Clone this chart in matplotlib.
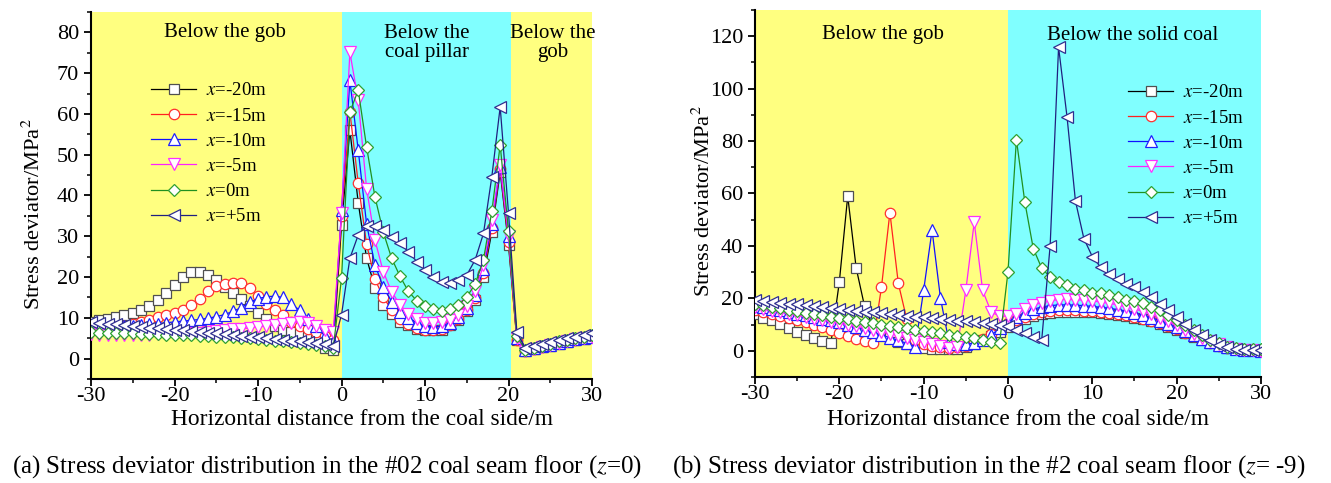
import matplotlib
matplotlib.use('Agg')
import matplotlib.pyplot as plt
import numpy as np
from matplotlib.ticker import MultipleLocator

plt.rcParams['font.family'] = ['Liberation Serif', 'DejaVu Serif']
plt.rcParams['mathtext.fontset'] = 'stix'
plt.rcParams['axes.unicode_minus'] = False

# horizontal positions (m), one point per metre
dist = list(range(-30, 31))
labels = ['$x$=-20m', '$x$=-15m', '$x$=-10m', '$x$=-5m', '$x$=0m', '$x$=+5m']

# (a) #02 coal seam floor, z=0
a_m20 = [9.0, 9.4, 9.8, 10.3, 10.7, 11.2, 11.8, 12.8, 14.3, 16.2,
         18.1, 20.0, 21.2, 21.3, 20.5, 19.2, 17.6, 16.2, 14.5, 12.8,
         11.2, 9.8, 8.0, 7.0, 6.5, 6.2, 5.8, 5.0, 2.5, 2.2,
         32.8, 56.0, 38.2, 24.6, 17.4, 13.2, 11.0, 9.1, 8.3, 7.2,
         6.9, 6.9, 7.0, 8.3, 9.5, 11.6, 14.4, 20.1, 31.1, 45.8,
         27.8, 4.5, 1.8, 2.3, 2.8, 3.2, 3.7, 4.1, 4.5, 4.9, 5.2]
a_m15 = [7.0, 7.2, 7.4, 7.7, 8.0, 8.5, 9.1, 9.5, 10.1, 10.6,
         11.2, 12.0, 13.2, 14.7, 16.6, 17.7, 18.3, 18.5, 18.5, 17.3,
         15.3, 13.5, 12.0, 10.8, 9.0, 8.0, 7.2, 6.5, 5.5, 4.5,
         35.0, 60.5, 43.0, 28.0, 19.5, 15.0, 12.0, 9.8, 8.4, 7.5,
         7.0, 6.9, 7.2, 8.2, 9.8, 11.8, 14.8, 21.0, 32.0, 46.5,
         28.5, 4.6, 1.9, 2.4, 2.9, 3.3, 3.8, 4.2, 4.6, 5.0, 5.3]
a_m10 = [7.5, 7.6, 7.7, 7.8, 7.9, 8.0, 8.2, 8.4, 8.6, 8.8,
         9.0, 9.2, 9.4, 9.6, 9.9, 10.3, 10.8, 11.6, 12.5, 13.8,
         14.7, 15.2, 15.3, 15.0, 13.5, 11.8, 9.8, 8.0, 5.5, 4.0,
         36.4, 68.2, 51.1, 33.0, 23.0, 17.5, 14.0, 11.5, 10.0, 8.8,
         8.0, 7.8, 8.0, 8.8, 10.2, 12.3, 15.5, 22.0, 33.0, 47.0,
         30.0, 5.0, 2.0, 2.5, 3.0, 3.4, 3.9, 4.3, 4.7, 5.1, 5.4]
a_m5 = [6.0, 5.9, 5.8, 5.8, 5.8, 5.8, 5.9, 5.9, 6.0, 6.0,
        6.0, 6.1, 6.2, 6.4, 6.6, 6.8, 7.0, 7.2, 7.3, 7.5,
        7.8, 8.0, 8.3, 8.6, 8.8, 9.0, 8.8, 8.0, 7.0, 6.5,
        35.8, 75.1, 63.3, 41.7, 29.1, 21.3, 16.4, 13.2, 11.0, 9.6,
        8.7, 8.7, 9.1, 9.5, 10.8, 13.0, 16.5, 23.0, 34.0, 47.5,
        30.0, 5.0, 1.9, 2.4, 2.9, 3.4, 3.9, 4.3, 4.7, 5.1, 5.4]
a_0 = [6.5, 6.4, 6.4, 6.3, 6.3, 6.2, 6.1, 6.1, 6.0, 5.9,
       5.8, 5.7, 5.7, 5.6, 5.5, 5.4, 5.3, 5.2, 5.1, 5.0,
       4.8, 4.6, 4.4, 4.2, 4.0, 3.8, 3.6, 3.4, 3.0, 2.5,
       19.7, 60.5, 65.8, 51.9, 39.7, 31.0, 24.6, 20.2, 16.5, 14.2,
       13.0, 12.1, 11.7, 12.1, 13.1, 15.2, 18.2, 24.3, 36.1, 52.4,
       31.2, 5.5, 2.2, 2.7, 3.2, 3.7, 4.2, 4.6, 5.0, 5.4, 5.8]
a_p5 = [9.0, 8.8, 8.6, 8.4, 8.2, 8.0, 7.8, 7.6, 7.4, 7.2,
        7.0, 6.9, 6.8, 6.6, 6.4, 6.2, 6.0, 5.8, 5.6, 5.4,
        5.2, 5.0, 4.8, 4.6, 4.4, 4.2, 4.0, 3.8, 3.5, 3.0,
        10.8, 24.6, 30.3, 32.5, 32.4, 31.5, 29.9, 28.3, 26.2, 23.8,
        21.8, 20.1, 18.9, 18.5, 19.3, 20.5, 24.2, 30.7, 44.6, 61.7,
        35.6, 6.5, 2.5, 3.0, 3.5, 4.0, 4.5, 5.0, 5.4, 5.8, 6.2]

# (b) #2 coal seam floor, z=-9
b_m20 = [13.9, 12.6, 11.6, 10.1, 8.5, 7.2, 6.0, 4.7, 3.8, 2.8,
         26.1, 59.0, 31.6, 16.9, 9.0, 6.5, 4.8, 3.5, 2.5, 1.8,
         1.2, 0.8, 0.5, 0.5, 0.8, 1.5, 2.5, 4.0, 5.5, 7.0,
         9.0, 10.5, 12.0, 13.2, 14.0, 14.5, 14.8, 14.9, 14.9, 14.8,
         14.6, 14.4, 14.1, 13.7, 13.2, 12.6, 12.0, 11.2, 10.3, 9.2,
         8.0, 6.7, 5.4, 4.2, 3.0, 2.0, 1.2, 0.6, 0.3, 0.1, 0.0]
b_m15 = [15.5, 14.8, 14.0, 13.2, 12.5, 11.8, 11.0, 10.0, 9.0, 7.8,
         6.7, 5.5, 4.5, 3.6, 2.8, 24.2, 52.7, 25.7, 12.0, 4.0,
         2.5, 2.0, 1.5, 1.2, 1.5, 2.0, 3.0, 4.5, 6.5, 8.5,
         10.5, 11.8, 13.0, 14.0, 14.8, 15.3, 15.5, 15.6, 15.5, 15.3,
         15.1, 14.8, 14.5, 14.1, 13.6, 13.0, 12.3, 11.5, 10.5, 9.4,
         8.2, 6.9, 5.6, 4.3, 3.1, 2.0, 1.2, 0.6, 0.3, 0.1, 0.0]
b_m10 = [17.2, 16.6, 16.0, 15.4, 14.8, 14.2, 13.6, 13.0, 12.3, 11.6,
         10.8, 10.0, 9.0, 8.0, 7.0, 6.0, 5.0, 4.0, 2.8, 1.5,
         23.0, 46.0, 20.0, 3.5, 2.5, 2.5, 3.0, 4.0, 6.0, 8.5,
         11.0, 12.8, 14.5, 15.8, 16.7, 17.2, 17.5, 17.5, 17.4, 17.2,
         16.9, 16.6, 16.2, 15.7, 15.1, 14.4, 13.6, 12.6, 11.5, 10.3,
         9.0, 7.5, 6.0, 4.6, 3.3, 2.2, 1.3, 0.7, 0.3, 0.1, 0.0]
b_m5 = [16.5, 15.9, 15.3, 14.7, 14.1, 13.5, 12.9, 12.3, 11.7, 11.1,
        10.5, 9.9, 9.3, 8.6, 7.9, 7.2, 6.5, 5.8, 5.0, 4.2,
        3.4, 2.6, 1.8, 1.2, 1.5, 23.0, 49.0, 23.0, 14.8, 13.2,
        13.2, 14.0, 15.8, 17.3, 18.4, 19.1, 19.5, 19.6, 19.5, 19.3,
        19.0, 18.6, 18.1, 17.5, 16.8, 16.0, 15.0, 13.9, 12.6, 11.2,
        9.7, 8.1, 6.5, 5.0, 3.6, 2.4, 1.4, 0.7, 0.3, 0.1, 0.0]
b_0 = [18.0, 17.4, 16.8, 16.2, 15.6, 15.0, 14.5, 14.0, 13.5, 13.0,
       12.5, 12.0, 11.5, 11.0, 10.5, 10.0, 9.5, 9.0, 8.5, 8.0,
       7.5, 7.0, 6.6, 6.2, 5.8, 5.3, 4.8, 4.2, 3.5, 2.8,
       30.0, 80.5, 56.7, 39.0, 31.5, 28.1, 26.2, 25.0, 23.7, 23.1,
       22.1, 21.9, 21.2, 20.6, 19.4, 19.0, 18.1, 16.8, 15.6, 13.7,
       11.8, 9.8, 7.9, 6.0, 4.1, 2.8, 1.5, 0.9, 0.7, 0.6, 0.5]
b_p5 = [19.5, 19.1, 18.7, 18.4, 18.0, 17.7, 17.3, 17.0, 16.6, 16.3,
        15.9, 15.6, 15.3, 14.9, 14.6, 14.3, 14.0, 13.6, 13.3, 13.0,
        12.7, 12.4, 12.1, 11.8, 11.5, 11.2, 10.9, 10.6, 10.3, 10.0,
        9.5, 8.0, 6.7, 5.4, 4.1, 40.0, 115.8, 89.3, 57.1, 42.8,
        35.9, 31.8, 29.3, 27.4, 25.5, 24.2, 22.3, 20.4, 17.9, 15.4,
        12.8, 10.3, 8.0, 5.9, 4.0, 2.1, 1.5, 0.8, 0.3, 0.2, 0.2]

series_a = [a_m20, a_m15, a_m10, a_m5, a_0, a_p5]
series_b = [b_m20, b_m15, b_m10, b_m5, b_0, b_p5]

line_colors = ['#000000', '#ff2020', '#1010ff', '#ff20ff', '#209020', '#202080']
edge_colors = ['#505050', '#ff3030', '#2020ff', '#ff30ff', '#30a030', '#303090']
markers = ['s', 'o', '^', 'v', 'D', '<']
sizes = [7, 7.5, 8, 8, 6.2, 8]

YELLOW = '#ffff80'
CYAN = '#80ffff'

fig = plt.figure(figsize=(13.31, 4.83), dpi=100)
ax1 = fig.add_axes([0.0684, 0.2153, 0.3764, 0.7600])
ax2 = fig.add_axes([0.5672, 0.2195, 0.3802, 0.7600])


def draw_lines(ax, data):
    for vals, lc, ec, mk, ms, lab in zip(data, line_colors, edge_colors, markers, sizes, labels):
        ax.plot(dist, vals, color=lc, lw=0.9, marker=mk, ms=ms, mfc='white',
                mec=ec, mew=0.9, label=lab, zorder=3)


def style_axes(ax):
    for side in ['top', 'right']:
        ax.spines[side].set_visible(False)
    for side in ['left', 'bottom']:
        ax.spines[side].set_linewidth(1.5)
    ax.tick_params(which='major', direction='out', length=5, width=1.3, labelsize=16)
    ax.tick_params(which='minor', direction='out', length=3, width=1.1)
    ax.tick_params(axis='x', which='major', pad=1)
    ax.xaxis.set_major_locator(MultipleLocator(10))
    ax.xaxis.set_minor_locator(MultipleLocator(5))
    ax.set_xlim(-30, 30)
    ax.set_xlabel('Horizontal distance from the coal side/m', fontsize=16.8)
    ax.set_ylabel('Stress deviator/MPa$^2$', fontsize=16.2)


# (a) panel
ax1.axvspan(-30, 0, color=YELLOW, lw=0, zorder=0)
ax1.axvspan(0, 20.3, color=CYAN, lw=0, zorder=0)
ax1.axvspan(20.3, 30, color=YELLOW, lw=0, zorder=0)
draw_lines(ax1, series_a)
style_axes(ax1)
ax1.set_ylim(-5, 85)
ax1.yaxis.set_major_locator(MultipleLocator(10))
ax1.yaxis.set_minor_locator(MultipleLocator(5))
ax1.xaxis.set_label_coords(0.54, -0.082)
ax1.yaxis.set_label_coords(-0.092, 0.45)
ax1.text(-14, 80, 'Below the gob', fontsize=15, ha='center', va='center')
ax1.text(10.2, 77.5, 'Below the\ncoal pillar', fontsize=15, ha='center', va='center',
         linespacing=1.0)
ax1.text(25.3, 77.5, 'Below the\ngob', fontsize=15, ha='center', va='center',
         linespacing=1.0)
ax1.legend(loc='upper left', bbox_to_anchor=(0.105, 0.829), frameon=False, fontsize=13.5,
           handlelength=2.4, handletextpad=0.5, labelspacing=0.43, borderaxespad=0)

# (b) panel
ax2.axvspan(-30, 0, color=YELLOW, lw=0, zorder=0)
ax2.axvspan(0, 30, color=CYAN, lw=0, zorder=0)
draw_lines(ax2, series_b)
style_axes(ax2)
ax2.set_ylim(-10, 130)
ax2.yaxis.set_major_locator(MultipleLocator(20))
ax2.yaxis.set_minor_locator(MultipleLocator(10))
ax2.xaxis.set_label_coords(0.52, -0.087)
ax2.yaxis.set_label_coords(-0.08, 0.48)
ax2.text(-14.8, 120.7, 'Below the gob', fontsize=15, ha='center', va='center')
ax2.text(14.8, 120.3, 'Below the solid coal', fontsize=15, ha='center', va='center')
ax2.legend(loc='upper left', bbox_to_anchor=(0.723, 0.818), frameon=False, fontsize=13.5,
           handlelength=2.4, handletextpad=0.5, labelspacing=0.43, borderaxespad=0)

fig.text(0.246, 0.033, '(a) Stress deviator distribution in the #02 coal seam floor ($z$=0)',
         fontsize=18, ha='center', va='center')
fig.text(0.743, 0.033, '(b) Stress deviator distribution in the #2 coal seam floor ($z$= -9)',
         fontsize=18, ha='center', va='center')

fig.savefig('out.png', dpi=100)
